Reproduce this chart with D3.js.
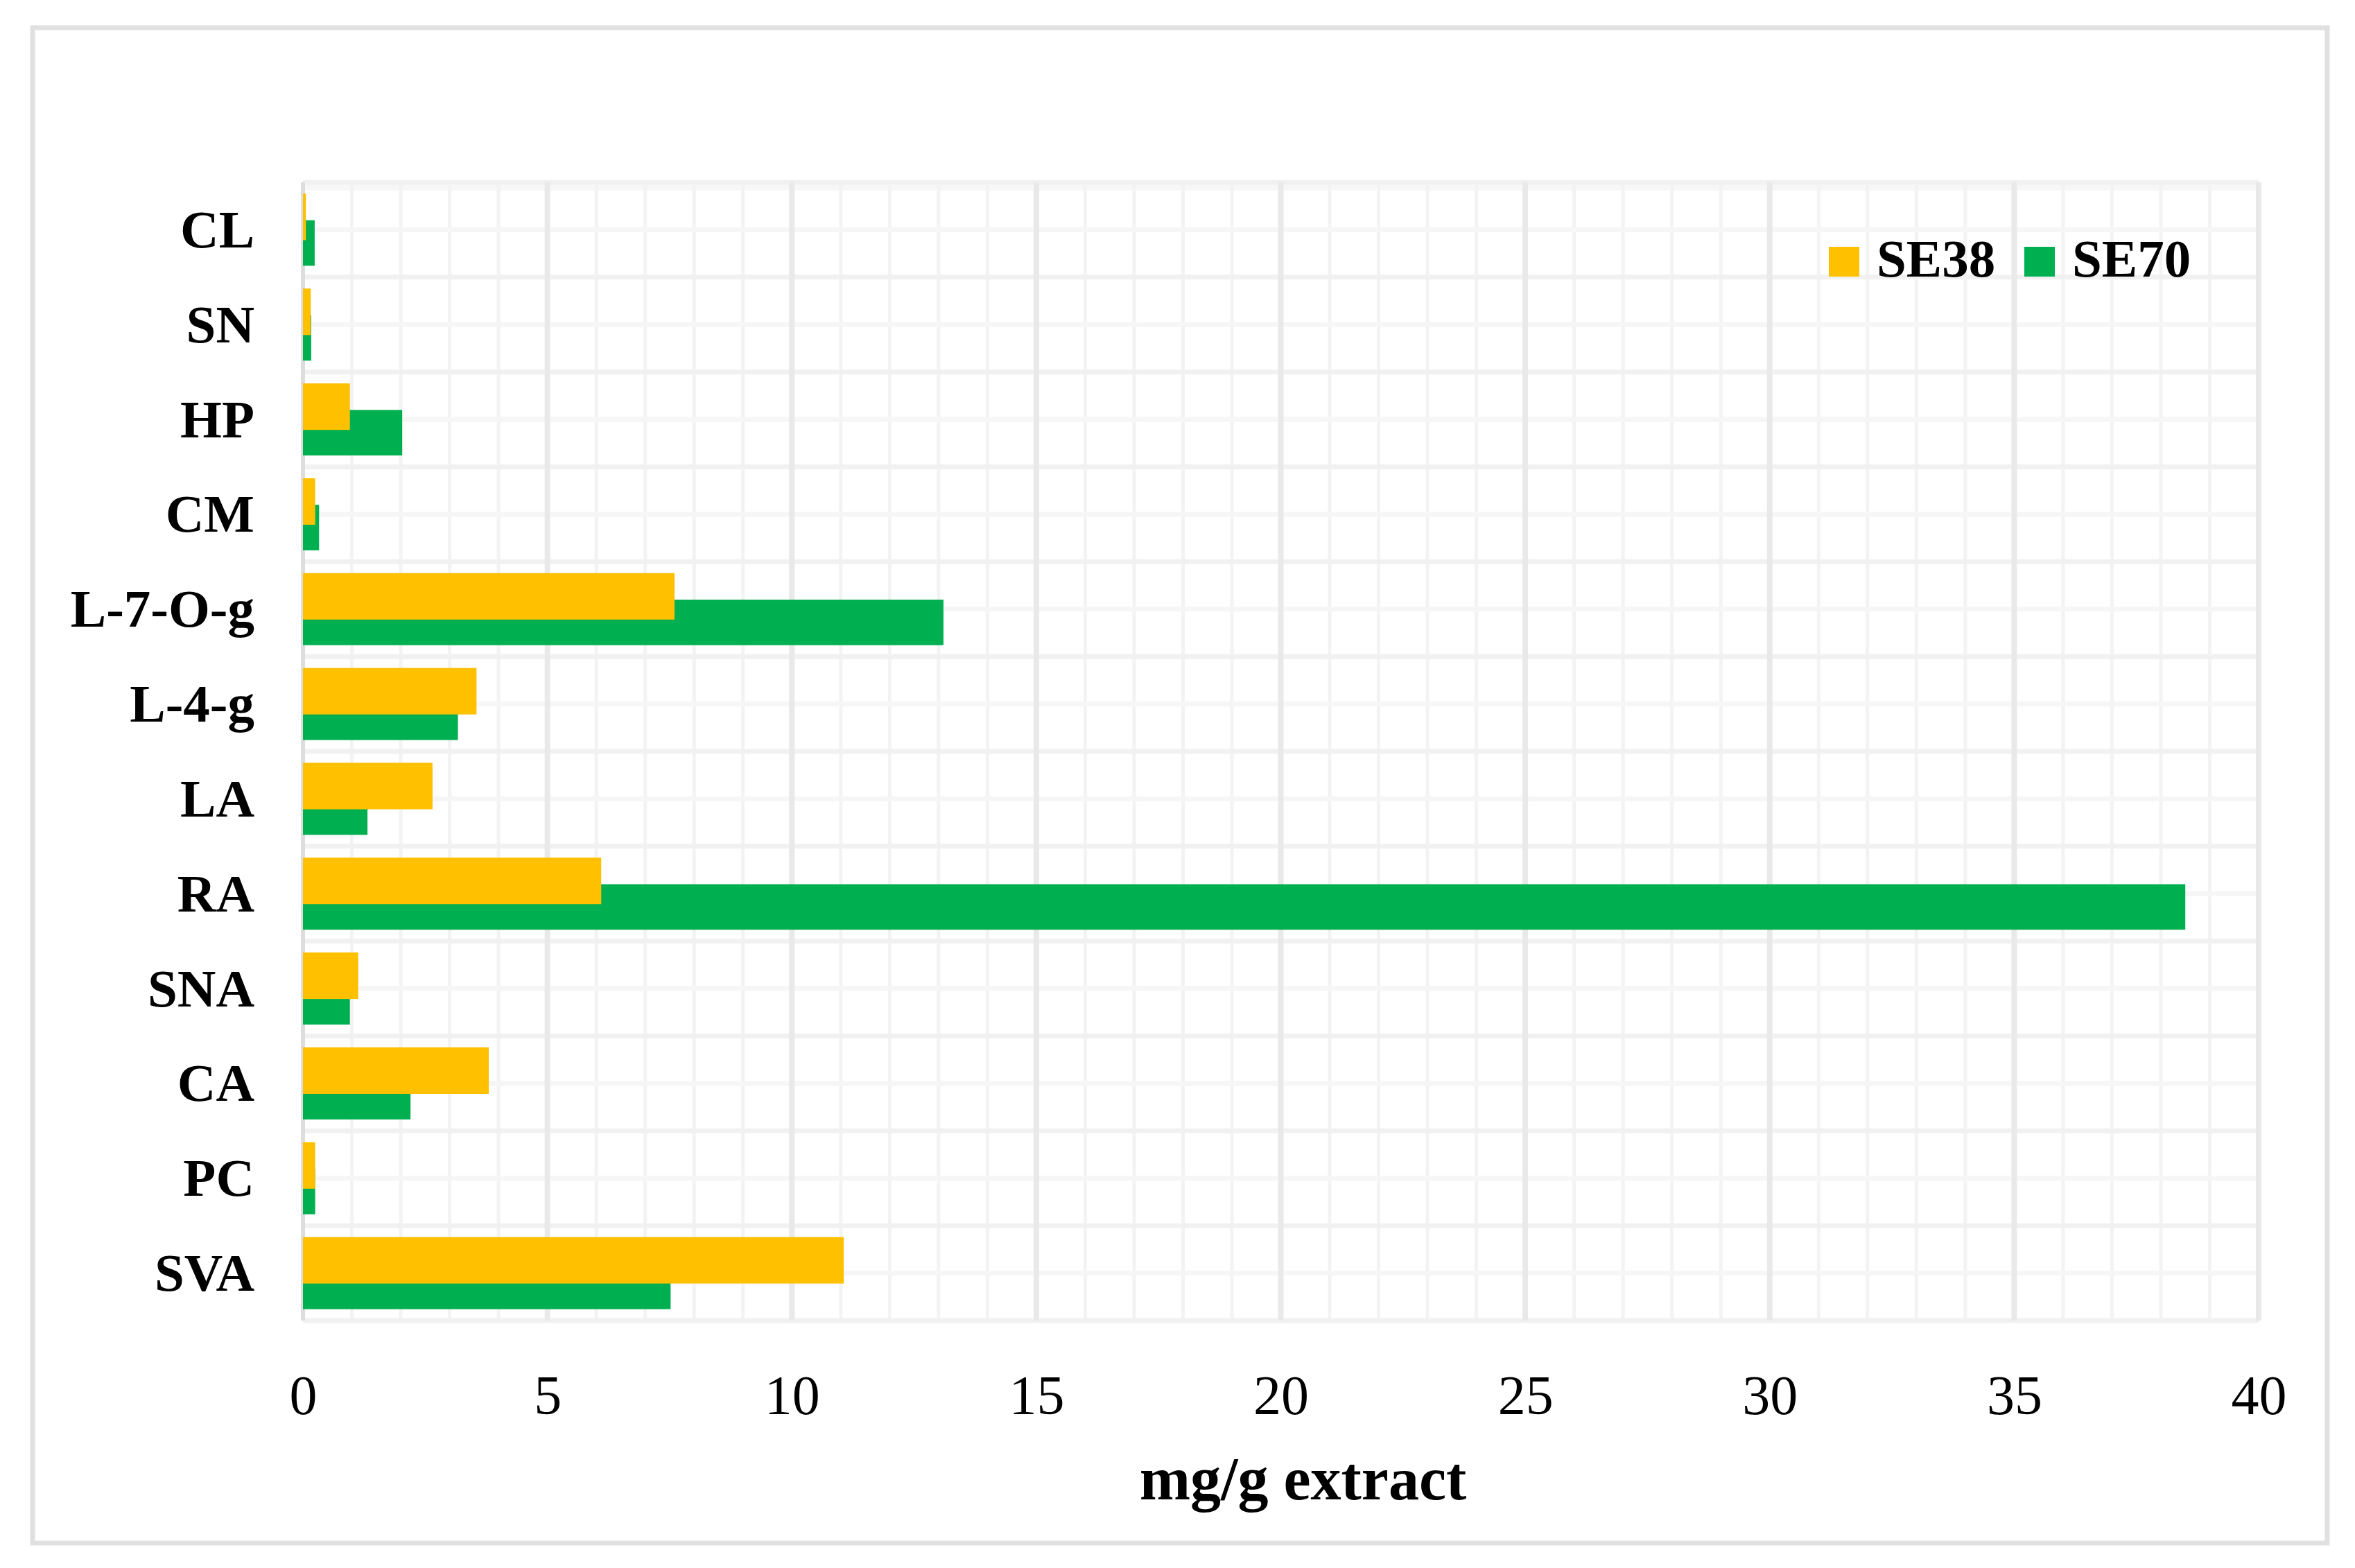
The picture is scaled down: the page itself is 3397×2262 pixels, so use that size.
<!DOCTYPE html>
<html>
<head>
<meta charset="utf-8">
<script src="https://cdn.jsdelivr.net/npm/d3@7"></script>
<style>
  body { margin: 0; background: #fff; }
  svg { display: block; }
  text { font-family: "Liberation Serif", "DejaVu Serif", serif; fill: #000; }
</style>
</head>
<body>
<svg></svg>
<script>
// data (mg/g extract)
const categories = ['CL', 'SN', 'HP', 'CM', 'L-7-O-g', 'L-4-g', 'LA', 'RA', 'SNA', 'CA', 'PC', 'SVA']
const se38 = [0.06, 0.16, 0.96, 0.25, 7.6, 3.55, 2.65, 6.1, 1.13, 3.8, 0.25, 11.06]
const se70 = [0.24, 0.17, 2.03, 0.33, 13.1, 3.17, 1.32, 38.5, 0.96, 2.2, 0.25, 7.52]
const seriesNames = ['SE38', 'SE70']
const seriesColors = ['#FFC000', '#00B050']
const xTicks = [0, 5, 10, 15, 20, 25, 30, 35, 40]
const xMinorTicks = d3.range(0, 41, 1)
const xTitle = 'mg/g extract'

let width = 3397
let height = 2262
let plotLeft = 437
let plotRight = 3258
let plotTop = 263
let plotBottom = 1905

let svg = d3.select('svg')
svg.attr('width', width).attr('height', height)

// outer frame
svg.append('rect')
   .attr('x', 47).attr('y', 40)
   .attr('width', 3310).attr('height', 2186)
   .attr('fill', 'none')
   .attr('stroke', '#e0e0e0')
   .attr('stroke-width', 7)

let xScale = d3.scaleLinear().domain([0, 40]).range([plotLeft, plotRight])
let yScale = d3.scaleBand().domain(categories).range([plotTop, plotBottom])
let bw = yScale.bandwidth()

// plot area shading band on top
svg.append('rect')
   .attr('x', plotLeft).attr('y', plotTop)
   .attr('width', plotRight - plotLeft).attr('height', 12)
   .attr('fill', '#f7f7f7')

// minor vertical grid
svg.append('g')
   .selectAll('line')
   .data(xMinorTicks.filter(d => d % 5 !== 0))
   .enter()
   .append('line')
   .attr('x1', d => xScale(d)).attr('x2', d => xScale(d))
   .attr('y1', plotTop).attr('y2', plotBottom)
   .attr('stroke', '#f3f3f3')
   .attr('stroke-width', 5)

// horizontal grid at band edges and band centres
let hLines = []
categories.forEach(c => {
    hLines.push({ y: yScale(c), major: true })
    hLines.push({ y: yScale(c) + bw / 2, major: false })
})
hLines.push({ y: plotBottom, major: true })

svg.append('g')
   .selectAll('line')
   .data(hLines)
   .enter()
   .append('line')
   .attr('x1', plotLeft).attr('x2', plotRight)
   .attr('y1', d => d.y).attr('y2', d => d.y)
   .attr('stroke', d => d.major ? '#f1f1f1' : '#f6f6f6')
   .attr('stroke-width', 7)

// major vertical grid
svg.append('g')
   .selectAll('line')
   .data(xTicks)
   .enter()
   .append('line')
   .attr('x1', d => xScale(d)).attr('x2', d => xScale(d))
   .attr('y1', plotTop).attr('y2', plotBottom)
   .attr('stroke', d => d === 0 ? '#dddddd' : '#e9e9e9')
   .attr('stroke-width', d => d === 0 ? 6 : 8)

// bars: green first, yellow drawn over it
svg.append('g')
   .selectAll('rect')
   .data(categories)
   .enter()
   .append('rect')
   .attr('x', xScale(0))
   .attr('y', c => yScale(c) + bw * 0.40)
   .attr('width', (c, i) => xScale(se70[i]) - xScale(0))
   .attr('height', bw * 0.48)
   .attr('fill', seriesColors[1])

svg.append('g')
   .selectAll('rect')
   .data(categories)
   .enter()
   .append('rect')
   .attr('x', xScale(0))
   .attr('y', c => yScale(c) + bw * 0.12)
   .attr('width', (c, i) => xScale(se38[i]) - xScale(0))
   .attr('height', bw * 0.49)
   .attr('fill', seriesColors[0])

// category axis
let yAxis = d3.axisLeft(yScale).tickSize(0).tickPadding(70)
let gy = svg.append('g')
   .attr('transform', 'translate(' + plotLeft + ', 0)')
   .call(yAxis)
gy.select('.domain').remove()
gy.selectAll('text')
  .attr('font-family', '"Liberation Serif", serif')
  .attr('font-weight', 'bold')
  .attr('font-size', 77)
  .attr('dy', '0.33em')

// value axis labels
let xAxis = d3.axisBottom(xScale).tickValues(xTicks).tickSize(0).tickPadding(78)
let gx = svg.append('g')
   .attr('transform', 'translate(0, ' + plotBottom + ')')
   .call(xAxis)
gx.select('.domain').remove()
gx.selectAll('text')
  .attr('font-family', '"Liberation Serif", serif')
  .attr('font-size', 80)

// axis title
svg.append('text')
   .attr('x', (plotLeft + plotRight) / 2 + 32)
   .attr('y', 2163)
   .attr('text-anchor', 'middle')
   .attr('font-weight', 'bold')
   .attr('font-size', 88)
   .text(xTitle)

// legend
let legendX = [2638, 2920]
let legend = svg.append('g')
seriesNames.forEach((name, i) => {
    legend.append('rect')
          .attr('x', legendX[i]).attr('y', 356)
          .attr('width', 44).attr('height', 43)
          .attr('fill', seriesColors[i])
    legend.append('text')
          .attr('x', legendX[i] + 69).attr('y', 399)
          .attr('font-weight', 'bold')
          .attr('font-size', 77)
          .text(name)
})
</script>
</body>
</html>
